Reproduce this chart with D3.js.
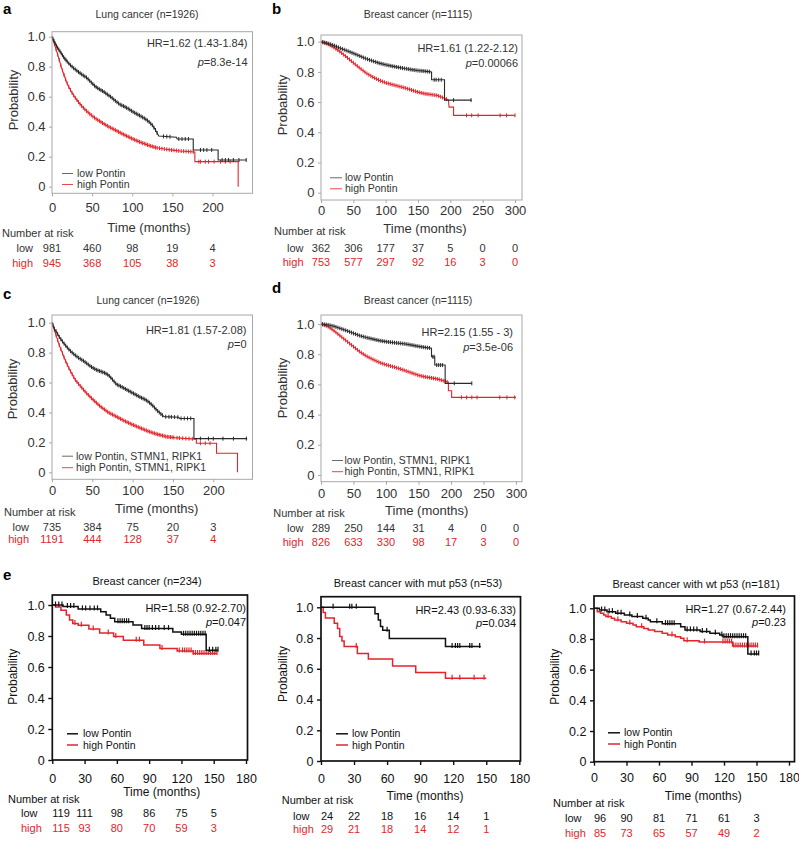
<!DOCTYPE html>
<html><head><meta charset="utf-8">
<script src="https://cdn.jsdelivr.net/npm/d3@7"></script>
<style>
body{margin:0;background:#fff}
svg{display:block}
text{font-family:"Liberation Sans",Arial,Helvetica,sans-serif}
</style></head>
<body><svg id="chart" width="799" height="841"></svg>
<script>
// ---------------- DATA ----------------
const titles = ["Lung cancer (n=1926)","Breast cancer (n=1115)","Lung cancer (n=1926)","Breast cancer (n=1115)","Breast cancer (n=234)","Breast cancer with mut p53 (n=53)","Breast cancer with wt p53 (n=181)"];
const panelLetters = ["a","b","c","d","e","",""];
const hrTexts = ["HR=1.62 (1.43-1.84)","HR=1.61 (1.22-2.12)","HR=1.81 (1.57-2.08)","HR=2.15 (1.55 - 3)","HR=1.58 (0.92-2.70)","HR=2.43 (0.93-6.33)","HR=1.27 (0.67-2.44)"];
const pTexts = ["=8.3e-14","=0.00066","=0","=3.5e-06","=0.047","=0.034","=0.23"];
const legendLow = ["low Pontin","low Pontin","low Pontin, STMN1, RIPK1","low Pontin, STMN1, RIPK1","low Pontin","low Pontin","low Pontin"];
const legendHigh = ["high Pontin","high Pontin","high Pontin, STMN1, RIPK1","high Pontin, STMN1, RIPK1","high Pontin","high Pontin","high Pontin"];

const yTicks = [0,0.2,0.4,0.6,0.8,1.0];
const xTicksLung = [0,50,100,150,200];
const xTicksBreast = [0,50,100,150,200,250,300];
const xTicksE = [0,30,60,90,120,150,180];

const riskTimesLung = [0,50,100,150,200];
const riskTimesBreast = [0,50,100,150,200,250,300];
const riskTimesE = [0,30,60,90,120,150];
const riskLowA = [981,460,98,19,4],   riskHighA = [945,368,105,38,3];
const riskLowB = [362,306,177,37,5,0,0], riskHighB = [753,577,297,92,16,3,0];
const riskLowC = [735,384,75,20,3],   riskHighC = [1191,444,128,37,4];
const riskLowD = [289,250,144,31,4,0,0], riskHighD = [826,633,330,98,17,3,0];
const riskLowE1 = [119,111,98,86,75,5], riskHighE1 = [115,93,80,70,59,3];
const riskLowE2 = [24,22,18,16,14,1],   riskHighE2 = [29,21,18,14,12,1];
const riskLowE3 = [96,90,81,71,61,3],   riskHighE3 = [85,73,65,57,49,2];

// survival curves [time, probability]
const aLow = [[0,1],[3,0.965],[6,0.935],[9,0.91],[12,0.885],[15,0.86],[18,0.84],[22,0.815],[27,0.79],[33,0.765],[38,0.745],[43,0.728],[48,0.70],[54,0.668],[59,0.65],[64,0.635],[69,0.615],[73,0.60],[79,0.572],[85,0.547],[90,0.535],[95,0.52],[100,0.502],[105,0.487],[110,0.472],[115,0.456],[120,0.437],[125,0.41],[129,0.378],[133,0.338],[155,0.33],[156,0.318],[176,0.318],[176,0.245],[207,0.245],[207,0.178],[242,0.178]];
const aHigh = [[0,1],[3,0.95],[6,0.9],[9,0.845],[12,0.79],[15,0.745],[18,0.70],[21,0.665],[25,0.625],[30,0.585],[35,0.55],[40,0.52],[45,0.495],[50,0.472],[55,0.452],[60,0.435],[65,0.418],[70,0.402],[75,0.388],[80,0.374],[85,0.36],[90,0.346],[95,0.333],[100,0.32],[105,0.308],[110,0.297],[115,0.287],[120,0.277],[125,0.268],[130,0.26],[140,0.251],[150,0.244],[160,0.238],[178,0.232],[178,0.167],[232,0.167],[232,0]];
const bLow = [[0,1],[10,0.99],[20,0.975],[30,0.957],[40,0.94],[50,0.923],[60,0.905],[70,0.887],[80,0.872],[90,0.858],[100,0.847],[110,0.838],[120,0.83],[130,0.822],[140,0.815],[150,0.809],[160,0.805],[171,0.80],[171,0.748],[191,0.748],[191,0.613],[233,0.613]];
const bHigh = [[0,1],[10,0.985],[20,0.962],[30,0.932],[40,0.897],[50,0.86],[60,0.825],[70,0.792],[80,0.766],[90,0.745],[100,0.728],[110,0.716],[120,0.705],[130,0.694],[140,0.68],[150,0.666],[160,0.656],[170,0.65],[180,0.644],[190,0.627],[197,0.614],[198,0.567],[205,0.567],[205,0.512],[300,0.512]];
const cLow = [[0,1],[3,0.96],[6,0.935],[9,0.905],[12,0.882],[15,0.86],[18,0.84],[22,0.815],[27,0.79],[33,0.765],[39,0.745],[45,0.72],[50,0.70],[55,0.685],[60,0.675],[65,0.665],[70,0.65],[75,0.62],[80,0.588],[85,0.575],[90,0.56],[95,0.545],[100,0.53],[105,0.515],[110,0.50],[115,0.488],[120,0.47],[125,0.445],[130,0.415],[135,0.39],[139,0.372],[157,0.368],[158,0.36],[176,0.36],[176,0.225],[242,0.225]];
const cHigh = [[0,1],[3,0.95],[6,0.9],[9,0.85],[12,0.81],[15,0.767],[18,0.73],[21,0.695],[25,0.655],[29,0.617],[35,0.577],[43,0.528],[50,0.49],[60,0.44],[70,0.40],[80,0.372],[90,0.343],[100,0.318],[110,0.295],[120,0.273],[130,0.255],[142,0.238],[152,0.232],[163,0.227],[179,0.222],[179,0.194],[204,0.194],[204,0.127],[230,0.127],[230,0]];
const dLow = [[0,1],[10,0.995],[20,0.985],[30,0.97],[40,0.955],[50,0.938],[60,0.922],[70,0.91],[80,0.9],[90,0.89],[100,0.883],[110,0.878],[120,0.873],[130,0.868],[140,0.86],[150,0.852],[160,0.845],[170,0.84],[170,0.783],[175,0.783],[175,0.728],[191,0.728],[191,0.607],[232,0.607]];
const dHigh = [[0,1],[10,0.985],[20,0.955],[30,0.92],[40,0.885],[50,0.85],[60,0.815],[70,0.787],[80,0.765],[90,0.745],[100,0.73],[110,0.718],[120,0.705],[130,0.69],[140,0.675],[150,0.66],[160,0.65],[170,0.643],[180,0.635],[190,0.622],[196,0.615],[196,0.558],[201,0.558],[201,0.514],[300,0.514]];
const e1Low = [[0,1],[10,0.99],[24,0.975],[45,0.957],[50,0.935],[54,0.914],[58,0.892],[75,0.871],[83,0.848],[112,0.826],[120,0.811],[143,0.708],[154,0.708]];
const e1High = [[0,1],[3,0.987],[8,0.966],[13,0.935],[16,0.903],[19,0.88],[24,0.869],[34,0.845],[44,0.82],[57,0.796],[66,0.773],[85,0.742],[100,0.72],[116,0.704],[131,0.687],[153,0.687]];
const e2Low = [[0,1],[49,0.958],[52,0.917],[54,0.875],[56,0.85],[62,0.797],[113,0.745],[145,0.745]];
const e2High = [[0,1],[2,0.966],[4,0.931],[12,0.897],[15,0.862],[17,0.81],[19,0.78],[21,0.745],[33,0.70],[43,0.664],[65,0.618],[86,0.575],[113,0.538],[150,0.538]];
const e3Low = [[0,1],[5,0.989],[12,0.978],[20,0.967],[28,0.957],[35,0.946],[45,0.935],[50,0.924],[52,0.913],[63,0.90],[80,0.88],[84,0.859],[98,0.848],[107,0.837],[116,0.826],[119,0.815],[142,0.702],[152,0.702]];
const e3High = [[0,1],[3,0.978],[6,0.967],[9,0.956],[11,0.946],[16,0.935],[19,0.924],[25,0.913],[30,0.902],[36,0.891],[39,0.88],[46,0.869],[50,0.859],[56,0.848],[63,0.837],[68,0.826],[75,0.815],[80,0.804],[83,0.789],[97,0.78],[128,0.754],[151,0.754]];

// censoring times (months)
const aLowCens = [1,2.5,4,5.5,7,8.5,10,11.5,13,14.5,16,17.5,19,21,23,25,27,29,31,33,35,37,39,41,43,45,47,49,51,53,55,57,59,61,63,65,67,69,71,73,75,77,79,81,83,85,87,89,91,93,95,97,99,101,103,105,107,109,111,113,115,117,119,121,123,125,127,129,131,139,143,147,158,162,166,170,185,189,193,199,212,216,220,226,233,242];
const aHighCens = [1,3,5,7,9,11,13,15,17,19,21,23,25,27,29,31,33,35,37,39,41,43,45,47,49,51,53,55,57,59,61,63,65,67,69,71,73,75,77,79,81,83,85,87,89,91,93,95,97,99,101,103,105,107,109,111,113,115,117,119,121,123,125,127,129,131,134,137,140,143,146,149,152,155,158,161,164,167,170,173,176,183,185,191,195,202,210,216,222];
const bLowCens = [3,6,9,12,15,18,21,24,27,30,33,36,39,42,45,48,51,54,57,60,63,66,69,72,75,78,81,84,87,90,93,96,99,102,105,108,111,114,117,120,123,126,129,132,135,138,141,144,147,150,153,156,159,162,165,168,175,178,182,186,205,232];
const bHighCens = [2,5,8,11,14,17,20,23,26,29,32,35,38,41,44,47,50,53,56,59,62,65,68,71,74,77,80,83,86,89,92,95,98,101,104,107,110,113,116,119,122,125,128,131,134,137,140,143,146,149,152,155,158,161,164,167,170,173,176,179,182,185,188,191,194,225,233,243,277,287,300];
const cLowCens = [1,3,5,7,9,11,13,15,17,19,21,23,25,27,29,31,33,35,37,39,41,43,45,47,49,51,53,55,57,59,61,63,65,67,69,71,73,75,77,79,81,83,85,87,89,91,93,95,97,99,101,103,105,107,109,111,113,115,117,119,121,123,125,127,129,131,133,135,137,141,145,148,152,156,160,164,168,172,184,194,200,212,225,241];
const cHighCens = [1,3,5,7,9,11,13,15,17,19,21,23,25,27,29,31,33,35,37,39,41,43,45,47,49,51,53,55,57,59,61,63,65,67,69,71,73,75,77,79,81,83,85,87,89,91,93,95,97,99,101,103,105,107,109,111,113,115,117,119,121,123,125,127,129,131,133,135,137,139,141,143,145,147,149,151,155,158,162,166,170,174,184,190,196];
const dLowCens = [2,5,8,11,14,17,20,23,26,29,32,35,38,41,44,47,50,53,56,59,62,65,68,71,74,77,80,83,86,89,92,95,98,101,104,107,110,113,116,119,122,125,128,131,134,137,140,143,146,149,152,155,158,161,164,167,172,174,178,181,184,187,205,232];
const dHighCens = [2,5,8,11,14,17,20,23,26,29,32,35,38,41,44,47,50,53,56,59,62,65,68,71,74,77,80,83,86,89,92,95,98,101,104,107,110,113,116,119,122,125,128,131,134,137,140,143,146,149,152,155,158,161,164,167,170,173,176,179,182,185,188,191,194,216,224,232,240,275,286,298];
const e1LowCens = [3,6,9,14,17,20,28,31,35,39,42,61,63,65,67,69,71,86,88,90,93,96,99,104,108,122,124,126,128,130,132,134,136,138,140,142,146,149,152,154];
const e1HighCens = [21,27,38,52,59,78,81,102,118,121,123,125,127,129,131,133,135,137,139,141,143,145,147,149,151,153];
const e2LowCens = [11,26,28,32,60,119,122,124,126,135,137,144];
const e2HighCens = [32,119,126,139,148];
const e3LowCens = [7,10,14,17,22,25,33,40,48,58,66,68,70,72,74,86,89,92,95,100,104,112,118,120,122,124,126,128,130,132,134,136,138,140,145,148,150,152];
const e3HighCens = [13,22,33,44,72,86,102,119,121,123,125,127,129,131,133,135,137,139,141,143,145,147,149,151];

// ---------------- LAYOUT ----------------
const layouts = [
 {letter:[3,13.5], box:[52,31.7,252.5,193.3], xRef:[200,212.5], yPix:[186.7,36.7], title:[147,18], hr:[247.5,47.3,65.5], leg:[62,73,77,173.5,184.5], ylab:[13.3,100], xlab:[149,232], xtb:212, nr:[2,237], rowX:33, rowAnchor:"end", rowY:[252.3,267.3], heavy:false, linear:true},
 {letter:[272,13.5], box:[321,35,522,200], xRef:[300,515], yPix:[192.7,41.7], title:[418,18], hr:[518,52.3,67.3], leg:[330,342,345,177.8,188.8], ylab:[282.7,105], xlab:[425,233], xtb:215.3, nr:[274,234.7], rowX:303.5, rowAnchor:"end", rowY:[252.3,266.3], heavy:false, linear:true},
 {letter:[3,299], box:[52,315,252.5,479.3], xRef:[200,213.3], yPix:[472.3,322.7], title:[148,303.5], hr:[246.5,334,348.3], leg:[62,73,76,456.2,467.7], ylab:[12.7,389], xlab:[156.7,513], xtb:495.3, nr:[4,515.7], rowX:29, rowAnchor:"end", rowY:[531.3,543.3], heavy:false, linear:true},
 {letter:[272,293], box:[321,315,522,481.7], xRef:[300,516], yPix:[475,324], title:[418,303.5], hr:[513,336.3,350.7], leg:[332,343,344.5,460.5,471.7], ylab:[282.7,388], xlab:[426.7,514.5], xtb:498, nr:[273.3,516.7], rowX:303.5, rowAnchor:"end", rowY:[532.3,545.7], heavy:false, linear:true},
 {letter:[3,580], box:[52.3,595,247.5,760], xRef:[180,246], yPix:[760,605], title:[147,585], hr:[246,612.3,625.7], leg:[67,78,83,733.8,745], ylab:[13.3,676.7], xlab:[161.7,796], xtb:782.5, nr:[8,803.3], rowX:21, rowAnchor:"start", rowY:[817.3,831.7], heavy:true, linear:false},
 {letter:[0,0], box:[321,596.7,520.5,761], xRef:[180,519.3], yPix:[761,607.3], title:[418,586.5], hr:[516,614,627.3], leg:[336,348,352,733.8,745], ylab:[283.3,674], xlab:[425,799.5], xtb:782.5, nr:[281.7,804], rowX:293, rowAnchor:"start", rowY:[820,833.3], heavy:true, linear:false},
 {letter:[0,0], box:[594,596,794.5,761.7], xRef:[180,789], yPix:[761.7,608.3], title:[696,588], hr:[786,613.3,625.7], leg:[608,620,624,732.8,744], ylab:[555,676.7], xlab:[703.3,799.5], xtb:782.5, nr:[553,806.7], rowX:565, rowAnchor:"start", rowY:[821.7,836.7], heavy:true, linear:false}
];

const series = [
 {low:aLow, high:aHigh, lowC:aLowCens, highC:aHighCens, xt:xTicksLung, rt:riskTimesLung, rl:riskLowA, rh:riskHighA},
 {low:bLow, high:bHigh, lowC:bLowCens, highC:bHighCens, xt:xTicksBreast, rt:riskTimesBreast, rl:riskLowB, rh:riskHighB},
 {low:cLow, high:cHigh, lowC:cLowCens, highC:cHighCens, xt:xTicksLung, rt:riskTimesLung, rl:riskLowC, rh:riskHighC},
 {low:dLow, high:dHigh, lowC:dLowCens, highC:dHighCens, xt:xTicksBreast, rt:riskTimesBreast, rl:riskLowD, rh:riskHighD},
 {low:e1Low, high:e1High, lowC:e1LowCens, highC:e1HighCens, xt:xTicksE, rt:riskTimesE, rl:riskLowE1, rh:riskHighE1},
 {low:e2Low, high:e2High, lowC:e2LowCens, highC:e2HighCens, xt:xTicksE, rt:riskTimesE, rl:riskLowE2, rh:riskHighE2},
 {low:e3Low, high:e3High, lowC:e3LowCens, highC:e3HighCens, xt:xTicksE, rt:riskTimesE, rl:riskLowE3, rh:riskHighE3}
];

const RED = "#e2252b";
const svg = d3.select("#chart");

function valLinear(pts, t){
  for (let i=1;i<pts.length;i++){
    const [t0,v0]=pts[i-1],[t1,v1]=pts[i];
    if (t>=t0 && t<=t1){ if (t1===t0) return v1; return v0+(v1-v0)*(t-t0)/(t1-t0); }
  }
  return pts[pts.length-1][1];
}
function valStep(pts, t){
  let v = pts[0][1];
  for (const [ti,vi] of pts){ if (ti<=t) v=vi; else break; }
  return v;
}

layouts.forEach((L, i) => {
  const S = series[i];
  const heavy = L.heavy;
  const g = svg.append("g");
  const x = d3.scaleLinear().domain([0, L.xRef[0]]).range([L.box[0], L.xRef[1]]);
  const y = d3.scaleLinear().domain([0, 1]).range(L.yPix);
  const textCol = heavy ? "#111" : "#333";
  const frameCol = heavy ? "#111" : "#a8a8a8";
  const lowCol = heavy ? "#111" : "#2a2a2a";
  const lw = heavy ? 1.5 : 1.1;
  const tickFont = heavy ? "12.5px" : "13px";
  const labFont = heavy ? "12px" : "13px";

  // curves
  const line = d3.line().x(d=>x(d[0])).y(d=>y(d[1])).curve(L.linear ? d3.curveLinear : d3.curveStepAfter);
  const valFn = L.linear ? valLinear : valStep;
  [[S.high, S.highC, RED],[S.low, S.lowC, lowCol]].forEach(([pts, cens, col]) => {
    g.append("path").attr("d", line(pts)).attr("fill","none").attr("stroke",col).attr("stroke-width",lw);
    g.append("g").selectAll("line").data(cens).join("line")
      .attr("x1", d=>x(d)).attr("x2", d=>x(d))
      .attr("y1", d=>y(valFn(pts,d)) - (heavy?3.5:2))
      .attr("y2", d=>y(valFn(pts,d)) + (heavy?1.5:2))
      .attr("stroke", col).attr("stroke-width", heavy?1.2:1);
  });

  // frame
  g.append("rect").attr("x",L.box[0]).attr("y",L.box[1])
    .attr("width",L.box[2]-L.box[0]).attr("height",L.box[3]-L.box[1])
    .attr("fill","none").attr("stroke",frameCol).attr("stroke-width",heavy?1.7:1);

  // y axis
  const ya = g.append("g").attr("transform",`translate(${L.box[0]},0)`)
    .call(d3.axisLeft(y).tickValues(yTicks).tickFormat(d=> d===0 ? "0" : d3.format(".1f")(d))
      .tickSize(heavy?4:3).tickPadding(3.5));
  ya.select(".domain").remove();
  ya.selectAll("line").attr("stroke",frameCol).attr("stroke-width",heavy?1.4:1);
  ya.selectAll("text").attr("fill",textCol).style("font-size",tickFont).style("font-family",'"Liberation Sans",Arial,sans-serif');

  // x axis
  const xa = g.append("g").attr("transform",`translate(0,${L.box[3]})`)
    .call(d3.axisBottom(x).tickValues(S.xt).tickFormat(d3.format("d")).tickSize(heavy?4:3));
  xa.select(".domain").remove();
  xa.selectAll("line").attr("stroke",frameCol).attr("stroke-width",heavy?1.4:1);
  xa.selectAll("text").attr("fill",textCol).attr("y", L.xtb - L.box[3]).attr("dy",0)
    .style("font-size",tickFont).style("font-family",'"Liberation Sans",Arial,sans-serif');

  // axis labels
  g.append("text").attr("transform",`translate(${L.ylab[0]},${L.ylab[1]}) rotate(-90)`)
    .attr("text-anchor","middle").attr("dominant-baseline","central")
    .attr("fill",textCol).style("font-size",labFont).text("Probability");
  g.append("text").attr("x",L.xlab[0]).attr("y",L.xlab[1]).attr("text-anchor","middle")
    .attr("fill",textCol).style("font-size",labFont).text("Time (months)");

  // title and panel letter
  g.append("text").attr("x",L.title[0]).attr("y",L.title[1]).attr("text-anchor","middle")
    .attr("fill",textCol).style("font-size", heavy?"11px":"10.5px").text(titles[i]);
  if (panelLetters[i]) g.append("text").attr("x",L.letter[0]).attr("y",L.letter[1])
    .attr("fill","#000").style("font-size","15px").style("font-weight","bold").text(panelLetters[i]);

  // HR and p
  g.append("text").attr("x",L.hr[0]).attr("y",L.hr[1]).attr("text-anchor","end")
    .attr("fill",textCol).style("font-size","11px").text(hrTexts[i]);
  const pt = g.append("text").attr("x",L.hr[0]).attr("y",L.hr[2]).attr("text-anchor","end")
    .attr("fill",textCol).style("font-size","11px");
  pt.append("tspan").style("font-style","italic").text("p");
  pt.append("tspan").text(pTexts[i]);

  // legend
  const legLowCol = heavy ? "#111" : "#6a6a6a";
  const legHighCol = heavy ? RED : "#e8474c";
  [[legendLow[i], L.leg[3], legLowCol],[legendHigh[i], L.leg[4], legHighCol]].forEach(([txt, yy, col]) => {
    g.append("line").attr("x1",L.leg[0]).attr("x2",L.leg[1]).attr("y1",yy).attr("y2",yy)
      .attr("stroke",col).attr("stroke-width",heavy?1.5:1);
    g.append("text").attr("x",L.leg[2]).attr("y",yy).attr("dy","0.35em")
      .attr("fill",textCol).style("font-size","10.5px").text(txt);
  });

  // number at risk
  g.append("text").attr("x",L.nr[0]).attr("y",L.nr[1]).attr("fill",textCol).style("font-size","11px").text("Number at risk");
  g.append("text").attr("x",L.rowX).attr("y",L.rowY[0]).attr("text-anchor",L.rowAnchor)
    .attr("fill",textCol).style("font-size","11px").text("low");
  g.append("text").attr("x",L.rowX).attr("y",L.rowY[1]).attr("text-anchor",L.rowAnchor)
    .attr("fill",RED).style("font-size","11px").text("high");
  const anchorFor = k => (heavy && k===0) ? "start" : "middle";
  g.append("g").selectAll("text").data(S.rt).join("text")
    .attr("x", d=>x(d)).attr("y", L.rowY[0]).attr("text-anchor",(d,k)=>anchorFor(k))
    .attr("fill",textCol).style("font-size","11px").text((d,k)=>S.rl[k]);
  g.append("g").selectAll("text").data(S.rt).join("text")
    .attr("x", d=>x(d)).attr("y", L.rowY[1]).attr("text-anchor",(d,k)=>anchorFor(k))
    .attr("fill",RED).style("font-size","11px").text((d,k)=>S.rh[k]);
});
</script>
</body></html>
